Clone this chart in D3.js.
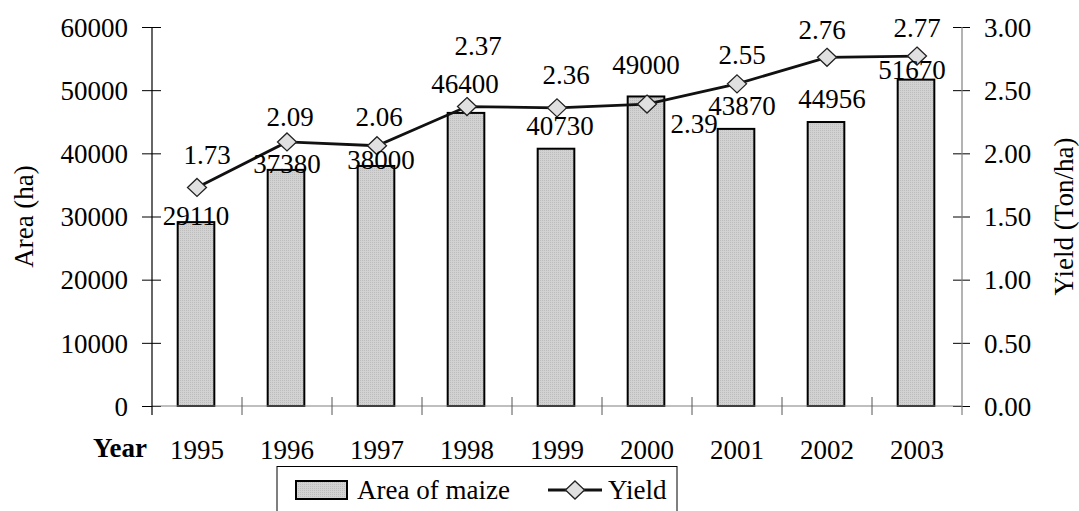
<!DOCTYPE html>
<html>
<head>
<meta charset="utf-8">
<script src="https://cdn.jsdelivr.net/npm/d3@7"></script>
<style>
  html, body { margin: 0; padding: 0; background: #fff; }
  svg { display: block; }
  text { font-family: "Liberation Serif", "Times New Roman", serif; fill: #000; }
</style>
</head>
<body>
<div id="chart"></div>
<script>
// data
const years = ['1995', '1996', '1997', '1998', '1999', '2000', '2001', '2002', '2003'];
const areaMaize = [29110, 37380, 38000, 46400, 40730, 49000, 43870, 44956, 51670];
const yieldTon = [1.73, 2.09, 2.06, 2.37, 2.36, 2.39, 2.55, 2.76, 2.77];
const areaTicks = [0, 10000, 20000, 30000, 40000, 50000, 60000];
const yieldTicks = [0, 0.5, 1, 1.5, 2, 2.5, 3];

// hand-moved data labels in the original (dx, dy relative to default spot)
const areaLabelShift = [[-1, 3], [0, 3], [4, 3], [-2, -20], [3, -14], [-1, -22], [5, -14], [5, -14], [-5, -1]];
const yieldLabelShift = [[10, -23], [3, -16], [2, -20], [11, -52], [9, -24], [47, 29], [5, -20], [-5, -18], [0, -19]];

const W = 1079, H = 511;
const plot = { left: 152, right: 962, top: 27, bottom: 406 };
const fontSize = 27;
const serif = '"Liberation Serif", "Times New Roman", serif';

const svg = d3.select('#chart').append('svg')
    .attr('width', W)
    .attr('height', H)
    .attr('font-family', serif);

// fine dotted grey like the original bar fill
const defs = svg.append('defs');
const pat = defs.append('pattern')
    .attr('id', 'dots')
    .attr('width', 2)
    .attr('height', 2)
    .attr('patternUnits', 'userSpaceOnUse');
pat.append('rect').attr('width', 2).attr('height', 2).attr('fill', '#d2d2d2');
pat.append('rect').attr('width', 1).attr('height', 1).attr('fill', '#bdbdbd');

const x = d3.scaleBand()
    .domain(years)
    .range([plot.left, plot.right])
    .padding(0);

const barW = x.bandwidth() * 0.407;

const yArea = d3.scaleLinear()
    .domain([0, 60000])
    .range([plot.bottom, plot.top]);

const yYield = d3.scaleLinear()
    .domain([0, 3])
    .range([plot.bottom, plot.top]);

// bars
svg.append('g').selectAll('rect')
    .data(areaMaize)
    .enter()
    .append('rect')
    .attr('x', (d, i) => x(years[i]) + x.bandwidth() / 2 - barW / 2 - 1)
    .attr('y', d => yArea(d))
    .attr('width', barW)
    .attr('height', d => plot.bottom - yArea(d))
    .attr('fill', 'url(#dots)')
    .attr('stroke', '#000')
    .attr('stroke-width', 2);

// left axis
const leftAxis = svg.append('g')
    .attr('transform', `translate(${plot.left},0)`)
    .call(d3.axisLeft(yArea).tickValues(areaTicks).tickSize(10).tickPadding(14).tickFormat(d3.format('d')))
    .attr('font-family', serif)
    .attr('font-size', fontSize);
leftAxis.select('.domain').remove();
leftAxis.selectAll('.tick line').attr('x1', 9).attr('stroke', '#000');
leftAxis.selectAll('.tick text').attr('dy', '0.34em');

// right axis
const rightAxis = svg.append('g')
    .attr('transform', `translate(${plot.right},0)`)
    .call(d3.axisRight(yYield).tickValues(yieldTicks).tickSize(8).tickPadding(14).tickFormat(d3.format('.2f')))
    .attr('font-family', serif)
    .attr('font-size', fontSize);
rightAxis.select('.domain').remove();
rightAxis.selectAll('.tick line').attr('x1', -9).attr('stroke', '#000');
rightAxis.selectAll('.tick text').attr('dy', '0.34em');

svg.append('line')
    .attr('x1', plot.right).attr('x2', plot.right)
    .attr('y1', plot.top).attr('y2', plot.bottom + 9)
    .attr('stroke', '#808080').attr('stroke-width', 1.2);

// bottom axis, ticks between categories
const bounds = years.map(y => x(y)).concat([plot.right]);
svg.append('line')
    .attr('x1', plot.left).attr('x2', plot.right)
    .attr('y1', plot.bottom).attr('y2', plot.bottom)
    .attr('stroke', '#808080').attr('stroke-width', 1.2);
svg.append('g').selectAll('line')
    .data(bounds.slice(1, -1))
    .enter()
    .append('line')
    .attr('x1', d => d).attr('x2', d => d)
    .attr('y1', plot.bottom - 9).attr('y2', plot.bottom + 9)
    .attr('stroke', '#555').attr('stroke-width', 1);

svg.append('line')
    .attr('x1', plot.left).attr('x2', plot.left)
    .attr('y1', plot.top).attr('y2', plot.bottom + 9)
    .attr('stroke', '#000').attr('stroke-width', 1.2);

svg.append('g').selectAll('text')
    .data(years)
    .enter()
    .append('text')
    .attr('x', d => x(d) + x.bandwidth() / 2)
    .attr('y', 459)
    .attr('text-anchor', 'middle')
    .style('font-size', `${fontSize}px`)
    .text(d => d);

svg.append('text')
    .attr('x', 93)
    .attr('y', 457)
    .style('font-size', `${fontSize}px`)
    .style('font-weight', 'bold')
    .text('Year');

// axis titles
svg.append('text')
    .attr('transform', `translate(33, ${(plot.top + plot.bottom) / 2}) rotate(-90)`)
    .attr('text-anchor', 'middle')
    .style('font-size', `${fontSize}px`)
    .text('Area (ha)');

svg.append('text')
    .attr('transform', `translate(1073, ${(plot.top + plot.bottom) / 2}) rotate(-90)`)
    .attr('text-anchor', 'middle')
    .style('font-size', `${fontSize}px`)
    .text('Yield (Ton/ha)');

// yield line
const cx = (d, i) => x(years[i]) + x.bandwidth() / 2;
const line = d3.line()
    .x(cx)
    .y(d => yYield(d));

svg.append('path')
    .datum(yieldTon)
    .attr('d', line)
    .attr('fill', 'none')
    .attr('stroke', '#111')
    .attr('stroke-width', 2.8);

const diamond = 'M0,-9L9.5,0L0,9L-9.5,0Z';
svg.append('g').selectAll('path')
    .data(yieldTon)
    .enter()
    .append('path')
    .attr('d', diamond)
    .attr('transform', (d, i) => `translate(${cx(d, i)},${yYield(d)})`)
    .attr('fill', '#e0e0e0')
    .attr('stroke', '#222')
    .attr('stroke-width', 1.3);

// data labels
svg.append('g').selectAll('text')
    .data(areaMaize)
    .enter()
    .append('text')
    .attr('x', (d, i) => cx(d, i) + areaLabelShift[i][0])
    .attr('y', (d, i) => yArea(d) + areaLabelShift[i][1])
    .attr('text-anchor', 'middle')
    .style('font-size', `${fontSize}px`)
    .text(d => d);

svg.append('g').selectAll('text')
    .data(yieldTon)
    .enter()
    .append('text')
    .attr('x', (d, i) => cx(d, i) + yieldLabelShift[i][0])
    .attr('y', (d, i) => yYield(d) + yieldLabelShift[i][1])
    .attr('text-anchor', 'middle')
    .style('font-size', `${fontSize}px`)
    .text(d => d3.format('.2f')(d));

// legend
const legend = svg.append('g');
legend.append('rect')
    .attr('x', 277).attr('y', 466.5)
    .attr('width', 400).attr('height', 60)
    .attr('fill', '#fff')
    .attr('stroke', '#000')
    .attr('stroke-width', 1);
legend.append('rect')
    .attr('x', 296).attr('y', 481)
    .attr('width', 51).attr('height', 18)
    .attr('fill', 'url(#dots)')
    .attr('stroke', '#000')
    .attr('stroke-width', 2);
legend.append('text')
    .attr('x', 357).attr('y', 499)
    .style('font-size', `${fontSize}px`)
    .text('Area of maize');
legend.append('line')
    .attr('x1', 548).attr('x2', 602)
    .attr('y1', 490).attr('y2', 490)
    .attr('stroke', '#111').attr('stroke-width', 2.8);
legend.append('path')
    .attr('d', diamond)
    .attr('transform', 'translate(575,490)')
    .attr('fill', '#e0e0e0')
    .attr('stroke', '#222')
    .attr('stroke-width', 1.3);
legend.append('text')
    .attr('x', 608).attr('y', 499)
    .style('font-size', `${fontSize}px`)
    .text('Yield');
</script>
</body>
</html>
